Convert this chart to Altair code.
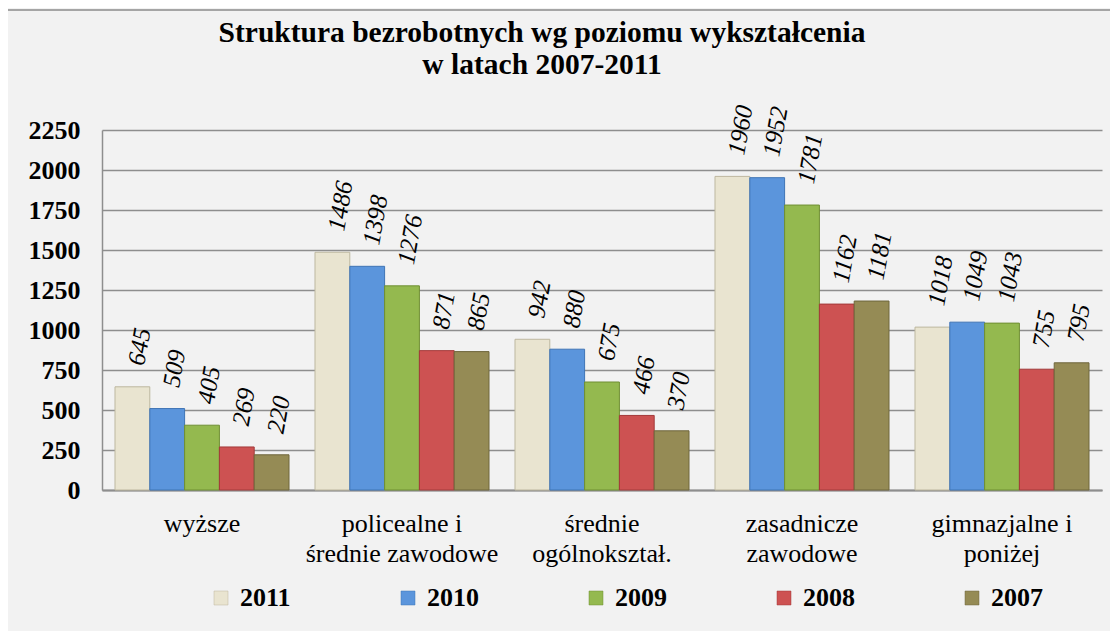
import altair as alt
import pandas as pd

categories = ["wyższe", "policealne i\nśrednie zawodowe", "średnie\nogólnokształ.",
              "zasadnicze\nzawodowe", "gimnazjalne i\nponiżej"]
years = ["2011", "2010", "2009", "2008", "2007"]
v2011 = [645, 1486, 942, 1960, 1018]
v2010 = [509, 1398, 880, 1952, 1049]
v2009 = [405, 1276, 675, 1781, 1043]
v2008 = [269, 871, 466, 1162, 755]
v2007 = [220, 865, 370, 1181, 795]
y_ticks = [0, 250, 500, 750, 1000, 1250, 1500, 1750, 2000, 2250]
title_lines = ["Struktura bezrobotnych wg poziomu wykształcenia", "w latach 2007-2011"]

colors = ["#e9e4d0", "#5b95dc", "#94b94f", "#cd5252", "#958b55"]
strokes = ["#bdb79f", "#3f74b5", "#6f8f33", "#a33a3a", "#6e663c"]

series = {"2011": v2011, "2010": v2010, "2009": v2009, "2008": v2008, "2007": v2007}
rows = []
for yr in years:
    for c, v in zip(categories, series[yr]):
        rows.append({"cat": c, "year": yr, "value": v})
df = pd.DataFrame(rows)

FONT = "'Liberation Serif', 'Times New Roman', serif"
GRID = "#8e8e8e"

base = alt.Chart(df).encode(
    x=alt.X("cat:N", sort=categories,
            scale=alt.Scale(paddingInner=0.13, paddingOuter=0.065),
            axis=alt.Axis(title=None, labelAngle=0, labelFont=FONT, labelFontSize=26,
                          labelColor="black", labelPadding=20, labelLineHeight=30,
                          labelLimit=0,
                          ticks=False, domainColor=GRID, domainWidth=2, grid=False,
                          labelExpr="split(datum.label, '\\n')")),
    xOffset=alt.XOffset("year:N", sort=years,
                        scale=alt.Scale(paddingInner=0, paddingOuter=0)),
    y=alt.Y("value:Q", scale=alt.Scale(domain=[0, 2250], nice=False),
            axis=alt.Axis(title=None, values=y_ticks, format="d", labelFont=FONT,
                          labelFontSize=26,
                          labelFontWeight="bold", labelColor="black", labelPadding=22,
                          ticks=False, domainColor=GRID, domainWidth=1.5,
                          gridColor=GRID, gridWidth=1.5)),
)

bars = base.mark_bar(strokeWidth=1).encode(
    color=alt.Color("year:N", sort=years,
                    scale=alt.Scale(domain=years, range=colors),
                    legend=alt.Legend(title=None, orient="none", legendX=106, legendY=455,
                                      direction="horizontal", columns=5, columnPadding=104,
                                      symbolType="square", symbolSize=196,
                                      symbolStrokeWidth=0.5, symbolStrokeColor="#777777",
                                      labelFont=FONT, labelFontSize=26, labelFontWeight="bold",
                                      labelColor="black", labelOffset=6, padding=0,
                                      labelLimit=0)),
    stroke=alt.Stroke("year:N", sort=years,
                      scale=alt.Scale(domain=years, range=strokes), legend=None),
)

labels = base.mark_text(angle=280, align="left", baseline="middle", dx=22,
                        font=FONT, fontStyle="italic", fontSize=25,
                        color="black").encode(text="value:Q")

border = alt.Chart(pd.DataFrame({"a": [0]})).mark_rect(
    fillOpacity=0, stroke="#8c8c8c", strokeWidth=1.5
).encode(x=alt.value(-95), x2=alt.value(1300), y=alt.value(-120), y2=alt.value(800))

title_df = pd.DataFrame({"line": title_lines, "i": [0, 1]})
title1 = alt.Chart(title_df[title_df.i == 0]).mark_text(
    font=FONT, fontSize=29.5, fontWeight="bold", color="black", align="center", baseline="middle"
).encode(text="line:N", x=alt.value(440), y=alt.value(-97))
title2 = alt.Chart(title_df[title_df.i == 1]).mark_text(
    font=FONT, fontSize=29.5, fontWeight="bold", color="black", align="center", baseline="middle"
).encode(text="line:N", x=alt.value(440), y=alt.value(-65))

chart = alt.layer(border, title1, title2, bars, labels).properties(
    width=1000, height=360,
    autosize=alt.AutoSizeParams(type="none"),
    padding={"left": 94, "top": 122, "right": 8, "bottom": 141},
).configure(background="#f2f2f2").configure_view(stroke=None)

chart.save("out.html", embed_options={"renderer": "svg", "actions": False})
